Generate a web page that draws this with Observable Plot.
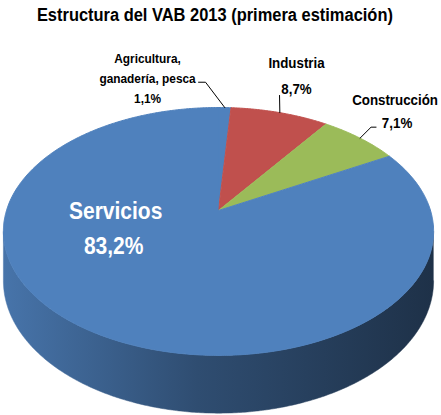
<!DOCTYPE html>
<html>
<head>
<meta charset="utf-8">
<script src="https://cdn.jsdelivr.net/npm/d3@7"></script>
<script src="https://cdn.jsdelivr.net/npm/@observablehq/plot@0.6"></script>
<style>
  html, body { margin: 0; padding: 0; background: #fff; }
  #wrap { width: 441px; height: 415px; position: relative; overflow: hidden; }
  #title { position: absolute; left: 0; top: 0; width: 430px; height: 36px; text-align: center;
           font-family: "Liberation Sans", Arial, sans-serif; font-weight: bold;
           font-size: 18px; line-height: 24px; padding-top: 3px; color: #000; white-space: nowrap; }
  #title span { display: inline-block; transform-origin: 50% 50%; }
  #chart { position: absolute; left: 0; top: 36px; }
</style>
</head>
<body>
<div id="wrap">
  <div id="title"><span id="tspan">Estructura del VAB 2013 (primera estimación)</span></div>
  <div id="chart"></div>
</div>
<script>
// ---- data ----
const categories = ["Agricultura, ganadería, pesca", "Industria", "Construcción", "Servicios"];
const values = [1.1, 8.7, 7.1, 83.2];
const nameLabels = ["Agricultura,\nganadería, pesca", "Industria", "Construcción", "Servicios"];
const valueLabels = ["1,1%", "8,7%", "7,1%", "83,2%"];

// ---- styles / layout ----
const colors = ["#4F81BD", "#C0504D", "#9BBB59", "#4F81BD"];
const CX = 218, CY = 210, A = 212, B = 120.4, K = 0.169, DEPTH = 48;
const FONT = "Liberation Sans, Arial, sans-serif";
const TITLE_WIDTH = 356; // condensed look of the original face
// label placement: radius factor and offsets (px) from the projected point
const labelLayout = [
  {r: 1.35, name: [-79, 5], value: [-79, 25], size: 13, lh: 1.58, color: "#000", leader: [[-28, 4], [-21, 4]]},
  {r: 1.35, name: [-1, -16], value: [-1, 10], size: 14.6, lh: 1.2, color: "#000", leader: [[-18, 11]]},
  {r: 1.35, name: [-8, -11], value: [-6, 12], size: 14.6, lh: 1.2, color: "#000", leader: [[-27, 11], [-32, 11]]},
  {r: 0.5, name: [-45, -48], value: [-47, -13], size: 23, lh: 1.2, color: "#fff", leader: null}
];

function project(theta, r, drop = 0) {
  const X = r * Math.sin(theta), Z = -r * Math.cos(theta);
  const w = 1 - K * Z;
  return [CX + A * X / w, CY + B * Z / w + drop / w];
}

const arcs = d3.pie().sort(null).value(d => d)(values);
const STEP = Math.PI / 360;

// top-face slice polygons
const slicePts = [];
arcs.forEach((a, i) => {
  const c = project(0, 0);
  slicePts.push({cat: categories[i], x: c[0], y: c[1]});
  const n = Math.max(2, Math.ceil((a.endAngle - a.startAngle) / STEP));
  for (let j = 0; j <= n; j++) {
    const t = a.startAngle + (a.endAngle - a.startAngle) * j / n;
    const p = project(t, 1);
    slicePts.push({cat: categories[i], x: p[0], y: p[1]});
  }
});

// visible side pieces (front half of the cylinder)
const tR = Math.acos(-K), tL = 2 * Math.PI - tR;
const sides = [];
arcs.forEach((a, i) => {
  const s = Math.max(a.startAngle, tR), e = Math.min(a.endAngle, tL);
  if (e <= s) return;
  const pts = [];
  const n = Math.ceil((e - s) / STEP);
  for (let j = 0; j <= n; j++) { const p = project(s + (e - s) * j / n, 1); pts.push({x: p[0], y: p[1]}); }
  for (let j = n; j >= 0; j--) { const p = project(s + (e - s) * j / n, 1, DEPTH); pts.push({x: p[0], y: p[1]}); }
  sides.push({i, pts});
});

// labels
const names = [], vals = [], leaders = [];
arcs.forEach((a, i) => {
  const L = labelLayout[i];
  const mid = (a.startAngle + a.endAngle) / 2;
  const p = project(mid, L.r);
  names.push({x: p[0] + L.name[0], y: p[1] + L.name[1], text: nameLabels[i], i});
  vals.push({x: p[0] + L.value[0], y: p[1] + L.value[1], text: valueLabels[i], i});
  if (L.leader) {
    L.leader.forEach(o => leaders.push({i, x: p[0] + o[0], y: p[1] + o[1]}));
    const rim = project(mid, 1);
    leaders.push({i, x: rim[0], y: rim[1]});
  }
});

const textMarks = [];
names.forEach(d => {
  const L = labelLayout[d.i];
  textMarks.push(Plot.text([d], {x: "x", y: "y", text: "text", fill: L.color, fontSize: L.size,
    fontWeight: "bold", fontFamily: FONT, lineAnchor: "bottom", textAnchor: "middle", lineHeight: L.lh}));
});
vals.forEach(d => {
  const L = labelLayout[d.i];
  textMarks.push(Plot.text([d], {x: "x", y: "y", text: "text", fill: L.color, fontSize: L.size,
    fontWeight: "bold", fontFamily: FONT, lineAnchor: "bottom", textAnchor: "middle"}));
});

const chart = Plot.plot({
  width: 441, height: 379, margin: 0,
  x: {domain: [0, 441], range: [0, 441], axis: null},
  y: {domain: [36, 415], range: [0, 379], axis: null},
  color: {domain: categories, range: colors},
  marks: [
    ...sides.map(s => Plot.line(s.pts, {x: "x", y: "y", fill: `url(#side${s.i})`, stroke: `url(#side${s.i})`, strokeWidth: 0.5})),
    Plot.line(slicePts, {x: "x", y: "y", z: "cat", fill: "cat", stroke: "cat", strokeWidth: 1}),
    Plot.line(leaders, {x: "x", y: "y", z: "i", stroke: "#000", strokeWidth: 1}),
    ...textMarks
  ]
});

// gradients for the cylinder side
const defs = d3.select(chart).insert("defs", ":first-child");
sides.forEach(s => {
  const base = d3.color(colors[s.i]);
  const g = defs.append("linearGradient").attr("id", `side${s.i}`)
    .attr("x1", 0).attr("x2", 1).attr("y1", 0).attr("y2", 0);
  g.append("stop").attr("offset", "0%").attr("stop-color", d3.interpolateRgb(base, "#000")(0.1));
  g.append("stop").attr("offset", "45%").attr("stop-color", d3.interpolateRgb(base, "#000")(0.4));
  g.append("stop").attr("offset", "100%").attr("stop-color", d3.interpolateRgb(base, "#000")(0.62));
});

document.getElementById("chart").appendChild(chart);

// condense text horizontally to mimic the narrow original typeface
const tEl = document.getElementById("tspan");
const f = TITLE_WIDTH / tEl.getBoundingClientRect().width;
tEl.style.transform = `scaleX(${f})`;
d3.select(chart).selectAll("text").each(function() {
  const el = this;
  const tr = el.getAttribute("transform") || "";
  const cx = parseFloat(el.getAttribute("x")) || 0;
  el.setAttribute("transform", `${tr} translate(${cx},0) scale(${f},1) translate(${-cx},0)`);
});
</script>
</body>
</html>
